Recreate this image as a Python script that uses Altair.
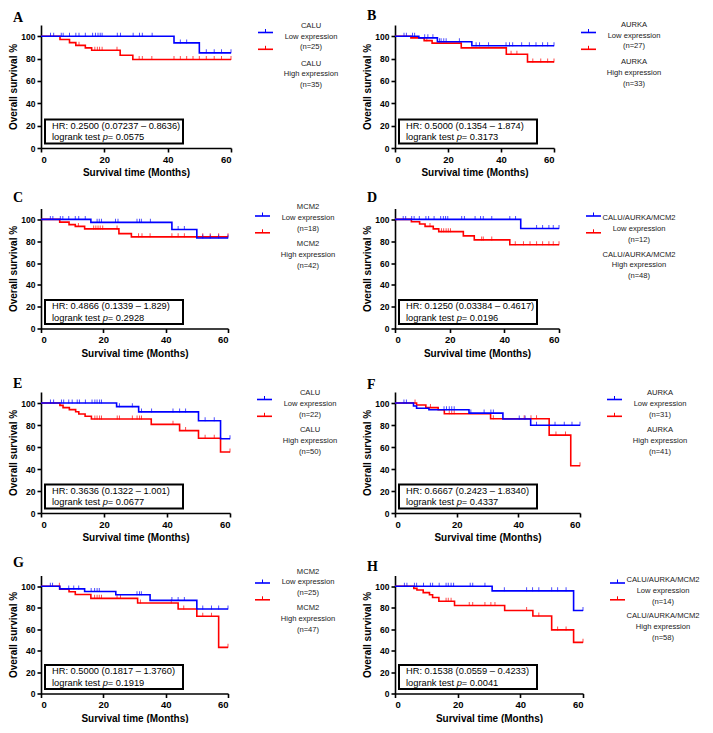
import altair as alt
import pandas as pd

# ---------------- data ----------------
LABELS = ["A", "B", "C", "D", "E", "F", "G", "H"]
GENES = ["CALU", "AURKA", "MCM2", "CALU/AURKA/MCM2",
         "CALU", "AURKA", "MCM2", "CALU/AURKA/MCM2"]
N_LOW = [25, 27, 18, 12, 22, 31, 25, 14]
N_HIGH = [35, 33, 42, 48, 50, 41, 47, 58]
HR_TEXT = ["0.2500 (0.07237 \u2013 0.8636)", "0.5000 (0.1354 \u2013 1.874)",
           "0.4866 (0.1339 \u2013 1.829)", "0.1250 (0.03384 \u2013 0.4617)",
           "0.3636 (0.1322 \u2013 1.001)", "0.6667 (0.2423 \u2013 1.8340)",
           "0.5000 (0.1817 \u2013 1.3760)", "0.1538 (0.0559 \u2013 0.4233)"]
P_TEXT = ["0.0575", "0.3173", "0.2928", "0.0196", "0.0677", "0.4337", "0.1919", "0.0041"]

LOW_TIMES = [[42, 50], [9, 16, 29], [16, 42, 50], [46], [24, 31, 50, 57],
             [6, 7, 11, 24, 35, 44], [6, 14, 24, 35, 50], [31, 57]]
LOW_SURV = [[94, 85.1], [98.5, 95, 91.4], [97.3, 90.8, 83], [91.7], [96.7, 91.9, 83.9, 67.5],
            [97.3, 95.2, 93.8, 90.8, 85.4, 79.8], [97.5, 95.1, 92, 86.8, 78.8], [95.7, 77.4]]
LOW_CENS = [
    [3, 4, 6.4, 7, 9, 11, 12, 14, 16.3, 17.2, 18, 18.7, 19.3, 24.1, 25.1, 29.1, 31.1, 32, 35.1,
     44, 46, 52.2, 54.7, 57, 60],
    [3.4, 4.3, 6.6, 7.4, 11.2, 12.4, 14.3, 16.8, 17.4, 18.4, 19.3, 24.3, 30.6, 31.9, 35.3,
     41.9, 43.2, 44.4, 47.8, 50.7, 53.2, 55.7, 57.6, 60],
    [3, 3.8, 6.2, 7, 8.9, 11, 12.1, 14.2, 18, 18.7, 19.4, 23.9, 24.7, 30.8, 31.6, 32.2, 35.1,
     44, 46, 51.9, 54.3, 57, 60],
    [3, 3.9, 6.1, 7, 8.9, 11.3, 12.3, 14.3, 16.7, 17.7, 18.5, 19.3, 24.4, 25.4, 29.3, 31.3,
     32.3, 35.4, 42, 44.1, 51.8, 54, 56.3, 57.9, 60],
    [3, 4, 6.5, 7.2, 8.8, 9.9, 11.5, 12.2, 14.1, 16.2, 17.1, 17.8, 18.6, 19.2, 24.9, 29, 31.9,
     35.1, 41.9, 44, 45.9, 52.1, 55, 60],
    [2.9, 3.7, 15.9, 16.7, 17.6, 18.4, 19.2, 24.6, 28.9, 31.1, 31.9, 40.3, 42.2, 45.9, 51.9,
     54.9, 57.4, 60],
    [3, 3.7, 8.9, 10.5, 12.1, 16.1, 17.2, 18, 18.7, 30.8, 31.6, 32.2, 42, 44, 46, 51.9, 54.7,
     57, 60],
    [3, 3.8, 6.2, 6.9, 9.1, 11.3, 12, 14.1, 16.3, 17, 17.9, 18.7, 24, 24.8, 28.7, 34.9, 42,
     43.9, 45.9, 50, 51.9, 54.6, 60],
]

HIGH_TIMES = [[6, 9, 11, 14, 16, 25, 29], [6, 11, 14, 25, 42, 50], [6, 9, 11, 14, 25, 29],
              [6, 9, 11, 14, 16, 25, 29, 42], [6, 7, 9, 11, 12, 14, 16, 35, 44, 50, 57],
              [7, 10, 14, 16, 31, 50, 57], [6, 9, 11, 16, 31, 44, 50, 57],
              [6, 7, 9, 11, 12, 14, 19, 35, 44, 50, 57]]
HIGH_SURV = [[97.1, 94.2, 91.8, 89.5, 87.4, 83, 79.2], [98.5, 96, 93.8, 89.5, 83.8, 77],
             [97.5, 95.2, 93.6, 91.3, 87, 84],
             [97.9, 95.8, 93.6, 91.3, 88.8, 84.9, 81.2, 76.8],
             [97.8, 95.8, 94, 92, 90, 88, 85.5, 80.6, 74.9, 68, 55.5],
             [98.2, 95.8, 93.8, 90.2, 85.7, 70.8, 43],
             [97.2, 94.8, 92.3, 88.7, 84.4, 78.8, 72, 43],
             [98, 96.5, 94, 92, 89.5, 86, 82, 77.4, 72.2, 59.3, 47.7]]
HIGH_CENS = [
    [12, 17, 17.8, 18.5, 19.3, 24, 31, 32, 35, 42, 44, 46, 48, 50, 52.2, 54.7, 57, 60],
    [12, 43.8, 46, 52, 55, 57.6, 60],
    [12, 16.9, 17.6, 18.3, 19, 19.8, 24.4, 31.3, 32.4, 35, 42, 44, 46, 51.9, 54.3, 57, 60],
    [12.8, 17, 17.8, 18.7, 19.5, 20.3, 31.7, 32.3, 35.4, 44, 47, 49.4, 51.8, 54, 56.3, 57.9, 60],
    [17.1, 17.8, 18.6, 19.2, 24.2, 24.9, 29, 30.5, 31.3, 31.9, 41.9, 45.9, 52.1, 55, 60],
    [6.5, 11.5, 17.6, 18.4, 19.2, 31.9, 41.9, 44.1, 45.9, 52.2, 55.3, 60],
    [5.9, 17.2, 18, 18.7, 19.4, 24.4, 25.5, 31.9, 41.8, 45.8, 51.9, 54.7, 60],
    [16.3, 17, 17.9, 23.7, 24.8, 28.7, 30.6, 31.9, 42, 45.9, 51.9, 54.6, 60],
]

# ---------------- style / layout ----------------
PANEL_W = [190, 159, 187, 164, 189, 185, 187, 188]
PANEL_H = [123, 123, 120, 120, 121, 121, 118, 118]
LETTER_Y = [-3.3, -5.3, -6.7, -7, -3.8, -2.8, -8.7, -4.3]
LEG_LOW_Y = [-9.9, -10.9, -12.3, -1.3, -9.5, -9.5, -14.7, -6.3]
LEG_HIGH_Y = [27.7, 26.4, 25, 35.4, 27.2, 27.2, 22, 29.7]

BLUE = "#0000ff"
RED = "#ff0000"
SANS = "Liberation Sans"
BOX_FS = 9.3
LEG_FS = 7.6
ONE = pd.DataFrame({"k": [0]})

X_ENC = alt.X("t:Q", scale=alt.Scale(domain=[0, 60], nice=False, zero=False),
              axis=alt.Axis(values=[0, 20, 40, 60], title="Survival time (Months)"))
Y_ENC = alt.Y("s:Q", scale=alt.Scale(domain=[0, 110], nice=False),
              axis=alt.Axis(values=[0, 20, 40, 60, 80, 100], title="Overall survival %"))


def curve_df(times, surv):
    return pd.DataFrame({"t": [0] + list(times) + [60],
                         "s": [100] + list(surv) + [surv[-1]]})


def cens_df(times, surv, cens):
    ys = []
    for c in cens:
        v = 100
        for t, s in zip(times, surv):
            if c >= t:
                v = s
        ys.append(v)
    return pd.DataFrame({"t": cens, "s": ys})


def panel(i):
    W, H = PANEL_W[i], PANEL_H[i]
    layers = []
    groups = [(HIGH_TIMES[i], HIGH_SURV[i], HIGH_CENS[i], RED),
              (LOW_TIMES[i], LOW_SURV[i], LOW_CENS[i], BLUE)]
    for times, surv, cens, col in groups:
        layers.append(alt.Chart(curve_df(times, surv)).mark_line(
            interpolate="step-after", color=col, strokeWidth=1.6).encode(x=X_ENC, y=Y_ENC))
        layers.append(alt.Chart(cens_df(times, surv, cens)).mark_tick(
            orient="vertical", color=col, size=4, thickness=1, yOffset=-1.5
        ).encode(x=X_ENC, y=Y_ENC))

    # HR box
    layers.append(alt.Chart(ONE).mark_rect(fill="white", stroke="black", strokeWidth=2).encode(
        x=alt.value(4), x2=alt.value(142), y=alt.value(H - 28.5), y2=alt.value(H - 4.5)))
    tx = 11
    layers.append(alt.Chart(ONE).mark_text(align="left", baseline="middle", fontSize=BOX_FS,
                                           font=SANS, color="black").encode(
        x=alt.value(tx), y=alt.value(H - 22.5), text=alt.value("HR: " + HR_TEXT[i])))
    w1 = 5.447 * BOX_FS
    layers.append(alt.Chart(ONE).mark_text(align="left", baseline="middle", fontSize=BOX_FS,
                                           font=SANS, color="black").encode(
        x=alt.value(tx), y=alt.value(H - 11), text=alt.value("logrank test")))
    layers.append(alt.Chart(ONE).mark_text(align="left", baseline="middle", fontSize=BOX_FS,
                                           font=SANS, fontStyle="italic", color="black").encode(
        x=alt.value(tx + w1), y=alt.value(H - 11), text=alt.value("p")))
    layers.append(alt.Chart(ONE).mark_text(align="left", baseline="middle", fontSize=BOX_FS,
                                           font=SANS, color="black").encode(
        x=alt.value(tx + w1 + 0.556 * BOX_FS), y=alt.value(H - 11),
        text=alt.value("= " + P_TEXT[i])))

    # legend
    lx0 = W + 27
    leg = [(7.5, BLUE, LEG_LOW_Y[i], f"{GENES[i]}\nLow expression\n(n={N_LOW[i]})"),
           (24.3, RED, LEG_HIGH_Y[i], f"{GENES[i]}\nHigh expression\n(n={N_HIGH[i]})")]
    for yl, col, ty, txt in leg:
        layers.append(alt.Chart(ONE).mark_rule(color=col, strokeWidth=1.6).encode(
            x=alt.value(lx0), x2=alt.value(lx0 + 15), y=alt.value(yl)))
        layers.append(alt.Chart(ONE).mark_rule(color=col, strokeWidth=1).encode(
            x=alt.value(lx0 + 7.5), y=alt.value(yl - 3.5), y2=alt.value(yl)))
        layers.append(alt.Chart(ONE).mark_text(align="center", baseline="middle", fontSize=LEG_FS,
                                               font=SANS, color="#1a1a1a", lineBreak="\n",
                                               lineHeight=10.8).encode(
            x=alt.value(W + 80), y=alt.value(ty + 10.8), text=alt.value(txt)))

    # panel letter
    layers.append(alt.Chart(ONE).mark_text(align="left", baseline="alphabetic", fontSize=14,
                                           font="Liberation Serif", fontWeight="bold",
                                           color="black").encode(
        x=alt.value(-28), y=alt.value(LETTER_Y[i]), text=alt.value(LABELS[i])))

    return alt.layer(*layers).properties(width=W, height=H)


chart = alt.concat(
    *[panel(i) for i in range(8)], columns=2,
    spacing={"row": 60.5, "column": 164}, bounds="flush", align="all", padding=0,
).configure_view(stroke=None).configure_axis(
    domainColor="black", domainWidth=1.6, tickColor="black", tickWidth=1.6, tickSize=4,
    labelColor="black", labelFont=SANS, labelFontWeight="bold",
    titleFont=SANS, titleFontWeight="bold", titleFontSize=10, titleColor="black",
    grid=False, labelPadding=2,
).configure_axisX(labelFontSize=9.5, titlePadding=4).configure_axisY(
    labelFontSize=8.5, titlePadding=2)

chart.save("out.html", embed_options={"renderer": "svg", "actions": False})
